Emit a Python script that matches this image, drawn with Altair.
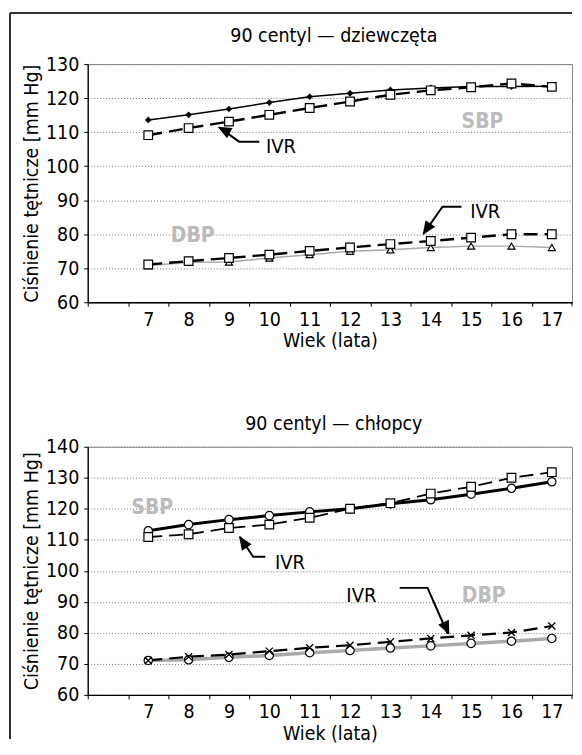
import altair as alt
import pandas as pd

FONT = "DejaVu Sans Condensed, Liberation Sans Narrow, Arial Narrow, sans-serif"

ages = list(range(7, 18))

# dziewczęta (girls)
g_sbp = [113.6, 115.1, 116.8, 118.7, 120.4, 121.4, 122.4, 123.0, 123.4, 123.4, 123.5]
g_sbp_ivr = [109.1, 111.2, 113.1, 115.1, 117.1, 119.0, 121.0, 122.3, 123.2, 124.3, 123.3]
g_dbp = [70.8, 71.7, 71.8, 73.0, 74.0, 75.0, 75.4, 76.1, 76.5, 76.5, 76.1]
g_dbp_ivr = [71.1, 72.1, 73.0, 74.0, 75.1, 76.1, 77.1, 78.0, 79.0, 80.0, 80.0]

# chłopcy (boys)
b_sbp = [112.9, 114.9, 116.5, 117.8, 119.0, 120.0, 121.6, 122.9, 124.7, 126.6, 128.7]
b_sbp_ivr = [110.9, 111.8, 113.8, 114.9, 117.1, 120.0, 121.8, 124.9, 127.1, 130.0, 131.8]
b_dbp = [71.1, 71.3, 72.1, 72.7, 73.6, 74.3, 75.1, 75.8, 76.6, 77.3, 78.2]
b_dbp_ivr = [71.1, 72.3, 73.0, 74.1, 75.2, 76.0, 77.1, 78.2, 79.2, 80.1, 82.2]

titles = ["90 centyl \u2014 dziewcz\u0119ta", "90 centyl \u2014 ch\u0142opcy"]
y_title = "Ci\u015bnienie t\u0119tnicze [mm Hg]"
x_title = "Wiek  (lata)"

# annotation positions (data units)
g_labels = pd.DataFrame({"x": [15.28, 8.10], "y": [113.0, 79.6], "t": ["SBP", "DBP"]})
g_ivr = pd.DataFrame({"x": [10.29, 15.35], "y": [105.5, 86.6], "t": ["IVR", "IVR"]})
b_labels = pd.DataFrame({"x": [7.10, 15.31], "y": [120.2, 91.9], "t": ["SBP", "DBP"]})
b_ivr = pd.DataFrame({"x": [10.51, 12.28], "y": [102.4, 91.8], "t": ["IVR", "IVR"]})

g_arrows = pd.DataFrame({
    "id": [1, 1, 1, 2, 2, 2],
    "o": [0, 1, 2, 0, 1, 2],
    "x": [9.75, 9.25, 8.76, 14.76, 14.29, 13.82],
    "y": [107.2, 107.2, 111.4, 88.1, 88.1, 80.1],
})
g_heads = pd.DataFrame({"x": [8.72, 13.80], "y": [111.6, 79.8], "ang": [298, 214]})
b_arrows = pd.DataFrame({
    "id": [1, 1, 1, 2, 2, 2],
    "o": [0, 1, 2, 0, 1, 2],
    "x": [9.90, 9.60, 9.27, 13.23, 13.92, 14.42],
    "y": [104.5, 104.5, 111.0, 94.5, 94.5, 79.7],
})
b_heads = pd.DataFrame({"x": [9.25, 14.46], "y": [111.2, 79.4], "ang": [326, 155]})

# category boundaries (tick marks) of the x axis
x_bounds = [5.5 + i for i in range(13)]

W = 486
H1, H2 = 239, 249
BAND = W / 12
FS = 19.5
SPACING = 145
BOX_TOP = -51

ARROW = "M0,0L-0.85,2L0.85,2Z"
XMARK = "M-1,-1L1,1M-1,1L1,-1"


def x_enc():
    return alt.X(
        "x:Q",
        scale=alt.Scale(domain=[5.5, 17.5], nice=False, zero=False),
        axis=alt.Axis(
            values=x_bounds[:-1],
            labelExpr="datum.value < 6 ? '' : format(datum.value + 0.5, 'd')",
            labelOffset=BAND / 2,
            labelOverlap=False,
            labelBound=False,
            labelFlush=False,
            grid=False,
            tickSize=4,
            labelPadding=4,
            title=x_title,
            titlePadding=3,
        ),
    )


def y_enc(top):
    return alt.Y(
        "y:Q",
        scale=alt.Scale(domain=[60, top], nice=False, zero=False),
        axis=alt.Axis(
            values=list(range(60, top + 1, 10)),
            grid=True,
            gridDash=[1, 2],
            gridColor="#777",
            gridWidth=1,
            tickSize=4,
            labelPadding=5,
            title=y_title,
            titlePadding=4,
        ),
    )


def series(vals):
    return pd.DataFrame({"x": ages, "y": vals})


def panel(top, h, title, title_y, specs, labels, ivr, arrows, heads, box=False):
    layers = []
    if box:
        # frame around the figure (cut off at right and bottom, as in the original)
        layers.append(
            alt.Chart(series(specs[0][0])).mark_rule(color="#333", strokeWidth=1.5).encode(
                x=alt.value(-78), x2=alt.value(486), y=alt.value(BOX_TOP)
            )
        )
        layers.append(
            alt.Chart(series(specs[0][0])).mark_rule(color="#333", strokeWidth=1.5).encode(
                x=alt.value(-78), y=alt.value(BOX_TOP), y2=alt.value(BOX_TOP + 728)
            )
        )
    layers.append(
        alt.Chart(pd.DataFrame({"t": [title]})).mark_text(
            font=FONT, fontSize=FS, color="black", align="center", baseline="middle"
        ).encode(x=alt.value(W / 2 + 4), y=alt.value(title_y), text="t:N")
    )
    # closing tick at the right end of the x axis
    layers.append(
        alt.Chart(pd.DataFrame({"x": x_bounds[-1:]})).mark_rule(color="black", strokeWidth=1).encode(
            x=x_enc(), y=alt.value(h), y2=alt.value(h + 4)
        )
    )
    for vals, color, width, dash, shape, size, filled, pcolor in specs:
        kw = dict(color=color, strokeWidth=width)
        if dash:
            kw["strokeDash"] = dash
        layers.append(alt.Chart(series(vals)).mark_line(**kw).encode(x=x_enc(), y=y_enc(top)))
    for vals, color, width, dash, shape, size, filled, pcolor in specs:
        if filled:
            m = alt.Chart(series(vals)).mark_point(
                shape=shape, size=size, filled=True, color=pcolor, opacity=1
            )
        elif shape == XMARK:
            m = alt.Chart(series(vals)).mark_point(
                shape=shape, size=size, filled=False, stroke=pcolor, strokeWidth=1.3, opacity=1
            )
        else:
            m = alt.Chart(series(vals)).mark_point(
                shape=shape, size=size, filled=True, fill="white", stroke=pcolor,
                strokeWidth=1.2, opacity=1
            )
        layers.append(m.encode(x=x_enc(), y=y_enc(top)))
    layers.append(
        alt.Chart(labels).mark_text(
            font=FONT, fontSize=21, fontWeight="bold", color="#bbbbbb"
        ).encode(x=x_enc(), y=y_enc(top), text="t:N")
    )
    layers.append(
        alt.Chart(ivr).mark_text(font=FONT, fontSize=20, color="black").encode(
            x=x_enc(), y=y_enc(top), text="t:N"
        )
    )
    layers.append(
        alt.Chart(arrows).mark_line(color="black", strokeWidth=2).encode(
            x=x_enc(), y=y_enc(top), detail="id:N", order="o:Q"
        )
    )
    layers.append(
        alt.Chart(heads).mark_point(
            shape=ARROW, size=190, filled=True, color="black", opacity=1
        ).encode(x=x_enc(), y=y_enc(top), angle=alt.Angle("ang:Q", scale=None))
    )
    return alt.layer(*layers).properties(width=W, height=h)


DIAMOND = "diamond"
g_specs = [
    (g_sbp, "black", 1.5, None, DIAMOND, 45, True, "black"),
    (g_sbp_ivr, "black", 2.4, [14, 7], "square", 75, False, "black"),
    (g_dbp, "#aaaaaa", 1.5, None, "triangle-up", 50, False, "black"),
    (g_dbp_ivr, "black", 2.4, [14, 7], "square", 75, False, "black"),
]
b_specs = [
    (b_sbp, "black", 3, None, "circle", 70, False, "black"),
    (b_sbp_ivr, "black", 1.8, [14, 7], "square", 75, False, "black"),
    (b_dbp, "#aaaaaa", 3.5, None, "circle", 70, False, "black"),
    (b_dbp_ivr, "black", 2.2, [14, 7], XMARK, 50, False, "black"),
]

top_chart = panel(130, H1, titles[0], -28, g_specs, g_labels, g_ivr, g_arrows, g_heads, box=True)
bottom_chart = panel(140, H2, titles[1], -23, b_specs, b_labels, b_ivr, b_arrows, b_heads)

chart = alt.vconcat(top_chart, bottom_chart, spacing=SPACING, bounds="flush").properties(
    padding={"left": 0, "top": 2, "right": 0, "bottom": 0}
).configure_view(stroke="#888", strokeWidth=1).configure_axis(
    labelFont=FONT,
    titleFont=FONT,
    labelFontSize=FS,
    titleFontSize=FS,
    titleFontWeight="normal",
    labelColor="black",
    titleColor="black",
    domainColor="black",
    domainWidth=1.3,
    tickColor="black",
    tickWidth=1,
)

chart.save("out.html", embed_options={"renderer": "svg", "actions": False})
